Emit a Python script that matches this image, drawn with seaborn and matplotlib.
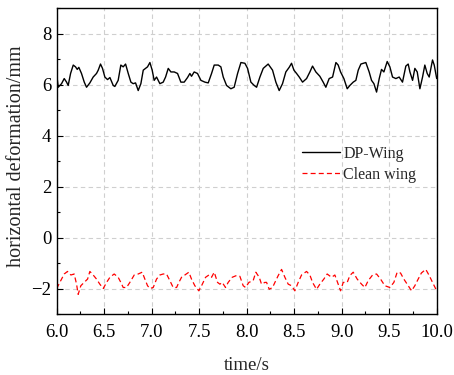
import numpy as np
import pandas as pd
import matplotlib
matplotlib.use("Agg")
import matplotlib.pyplot as plt
from matplotlib.ticker import MultipleLocator
import seaborn as sns

# ---- data ----
t_dp = [6.000, 6.016, 6.051, 6.079, 6.104, 6.121, 6.146, 6.174, 6.198, 6.216, 6.233, 6.261, 6.290, 6.314,
        6.349, 6.384, 6.419, 6.437, 6.461, 6.482, 6.507, 6.535, 6.560, 6.595, 6.612, 6.647, 6.675, 6.700,
        6.725, 6.753, 6.781, 6.805, 6.830, 6.858, 6.886, 6.911, 6.935, 6.956, 6.981, 7.005, 7.026, 7.051,
        7.086, 7.121, 7.146, 7.174, 7.202, 7.237, 7.272, 7.307, 7.342, 7.377, 7.402, 7.419, 7.447, 7.482,
        7.518, 7.560, 7.595, 7.630, 7.658, 7.700, 7.728, 7.753, 7.788, 7.833, 7.868, 7.904, 7.939, 7.981,
        8.009, 8.044, 8.079, 8.104, 8.139, 8.174, 8.226, 8.272, 8.307, 8.342, 8.377, 8.412, 8.447, 8.472,
        8.497, 8.525, 8.553, 8.588, 8.630, 8.665, 8.693, 8.728, 8.770, 8.805, 8.833, 8.868, 8.904, 8.939,
        8.963, 8.988, 9.023, 9.058, 9.086, 9.121, 9.149, 9.174, 9.202, 9.254, 9.289, 9.314, 9.339, 9.367,
        9.395, 9.419, 9.444, 9.479, 9.507, 9.535, 9.570, 9.605, 9.640, 9.675, 9.700, 9.718, 9.746, 9.770,
        9.795, 9.823, 9.851, 9.875, 9.900, 9.921, 9.956, 9.974, 10.000]
v_dp = [6.40, 5.90, 6.04, 6.24, 6.10, 5.97, 6.44, 6.77, 6.70, 6.60, 6.68, 6.44, 6.10, 5.90,
        6.07, 6.30, 6.44, 6.57, 6.81, 6.64, 6.30, 6.20, 6.28, 5.97, 5.93, 6.17, 6.77, 6.70,
        6.81, 6.44, 6.10, 6.04, 6.07, 5.77, 6.04, 6.57, 6.64, 6.70, 6.87, 6.57, 6.17, 6.30,
        6.04, 6.10, 6.30, 6.64, 6.50, 6.50, 6.44, 6.10, 6.10, 6.28, 6.44, 6.33, 6.50, 6.44,
        6.17, 6.10, 6.07, 6.44, 6.77, 6.77, 6.70, 6.30, 5.97, 5.84, 5.90, 6.44, 6.87, 6.84,
        6.64, 6.10, 5.97, 5.90, 6.30, 6.64, 6.81, 6.57, 6.10, 5.77, 6.04, 6.50, 6.68, 6.84,
        6.57, 6.44, 6.30, 6.10, 6.24, 6.50, 6.73, 6.50, 6.33, 6.10, 5.90, 6.24, 6.30, 6.87,
        6.77, 6.50, 6.24, 5.84, 5.97, 6.10, 6.17, 6.57, 6.81, 6.87, 6.50, 6.17, 6.04, 5.71,
        6.24, 6.60, 6.50, 6.91, 6.70, 6.30, 6.24, 6.30, 6.10, 6.73, 6.81, 6.50, 6.17, 6.64,
        6.50, 5.84, 6.30, 6.77, 6.44, 6.30, 6.97, 6.77, 6.24]

t_clean = [6.000, 6.033, 6.079, 6.114, 6.149, 6.184, 6.209, 6.226, 6.254, 6.289, 6.325, 6.349, 6.384,
           6.419, 6.454, 6.490, 6.525, 6.560, 6.605, 6.647, 6.675, 6.700, 6.735, 6.770, 6.816, 6.858,
           6.900, 6.928, 6.956, 6.981, 7.016, 7.051, 7.086, 7.121, 7.156, 7.191, 7.226, 7.262, 7.286,
           7.314, 7.349, 7.391, 7.419, 7.454, 7.496, 7.525, 7.567, 7.602, 7.630, 7.658, 7.693, 7.718,
           7.742, 7.777, 7.805, 7.847, 7.893, 7.928, 7.963, 7.988, 8.023, 8.068, 8.096, 8.132, 8.156,
           8.191, 8.209, 8.237, 8.272, 8.297, 8.332, 8.367, 8.402, 8.437, 8.472, 8.507, 8.542, 8.577,
           8.630, 8.665, 8.693, 8.735, 8.770, 8.812, 8.847, 8.893, 8.928, 8.963, 8.988, 9.016, 9.058,
           9.086, 9.121, 9.163, 9.209, 9.244, 9.279, 9.325, 9.367, 9.409, 9.454, 9.507, 9.549, 9.584,
           9.619, 9.654, 9.700, 9.735, 9.770, 9.805, 9.839, 9.885, 9.921, 9.956, 10.000]
v_clean = [-2.00, -1.76, -1.43, -1.33, -1.47, -1.43, -1.83, -2.23, -1.89, -1.76, -1.63, -1.33, -1.47,
           -1.63, -1.83, -2.00, -1.76, -1.56, -1.43, -1.56, -1.76, -1.96, -1.96, -1.76, -1.47, -1.43,
           -1.36, -1.63, -1.89, -2.00, -1.96, -1.63, -1.47, -1.43, -1.43, -1.69, -1.96, -1.96, -1.76,
           -1.56, -1.47, -1.36, -1.63, -1.89, -2.09, -1.89, -1.56, -1.47, -1.56, -1.36, -1.76, -1.83,
           -1.76, -1.96, -1.76, -1.56, -1.49, -1.52, -1.89, -1.96, -1.76, -1.69, -1.36, -1.56, -1.83,
           -1.76, -1.76, -2.03, -1.96, -1.76, -1.49, -1.25, -1.56, -1.83, -1.89, -2.09, -1.76, -1.47,
           -1.33, -1.47, -1.76, -2.03, -1.83, -1.63, -1.43, -1.56, -1.47, -1.83, -2.09, -1.76, -1.76,
           -1.49, -1.36, -1.63, -1.83, -1.96, -1.69, -1.47, -1.43, -1.63, -1.89, -1.96, -1.76, -1.36,
           -1.39, -1.63, -1.89, -2.09, -1.89, -1.63, -1.39, -1.25, -1.49, -1.76, -2.09]

series_names = ["DP-Wing", "Clean wing"]
x_label = "time/s"
y_label = "horizontal deformation/mm"

# ---- style ----
sns.set_style("ticks")
plt.rcParams["font.family"] = ["Liberation Serif", "DejaVu Serif"]

fig = plt.figure(figsize=(4.54, 3.75), dpi=100)
ax = fig.add_axes([0.1249, 0.1627, 0.837, 0.8153])

df_dp = pd.DataFrame({"t": t_dp, "v": v_dp})
df_cl = pd.DataFrame({"t": t_clean, "v": v_clean})

sns.lineplot(data=df_dp, x="t", y="v", ax=ax, color="black", lw=1.0,
             label=series_names[0], estimator=None, sort=False)
sns.lineplot(data=df_cl, x="t", y="v", ax=ax, color="#ff0000", lw=0.9,
             label=series_names[1], estimator=None, sort=False, dashes=False)
ax.lines[1].set_linestyle((0, (4, 2.5)))

ax.set_xlim(6.0, 10.0)
ax.set_ylim(-3, 9)
ax.xaxis.set_major_locator(MultipleLocator(0.5))
ax.xaxis.set_minor_locator(MultipleLocator(0.25))
ax.yaxis.set_major_locator(MultipleLocator(2))
ax.yaxis.set_minor_locator(MultipleLocator(1))
ax.xaxis.set_major_formatter(matplotlib.ticker.FormatStrFormatter("%.1f"))
ax.yaxis.set_major_formatter(matplotlib.ticker.FuncFormatter(
    lambda v, p: ("\u2212%d" % abs(v)) if v < 0 else "%d" % v))

ax.grid(True, which="major", color="#cfcfcf", linestyle=(0, (4, 3)), lw=0.8)
ax.set_axisbelow(True)

ax.tick_params(which="both", direction="in", top=False, right=False, colors="black")
ax.tick_params(which="major", length=4.5, width=0.8)
ax.tick_params(which="minor", length=2.5, width=0.8)
ax.tick_params(axis="x", which="major", labelsize=13.5, pad=7)
ax.tick_params(axis="y", which="major", labelsize=13.5, pad=4)

for s in ax.spines.values():
    s.set_visible(True)
    s.set_color("black")
    s.set_linewidth(1.0)

ax.set_xlabel(x_label, fontsize=13.5, labelpad=12)
ax.set_ylabel(y_label, fontsize=14.5)
ax.yaxis.set_label_coords(-0.08, 0.517)

leg = ax.legend(loc="center left", bbox_to_anchor=(0.645, 0.49), frameon=False,
                fontsize=11.5, handlelength=2.4, handletextpad=0.2, labelspacing=0.3,
                borderaxespad=0, borderpad=0)

fig.savefig("out.png", dpi=100)
